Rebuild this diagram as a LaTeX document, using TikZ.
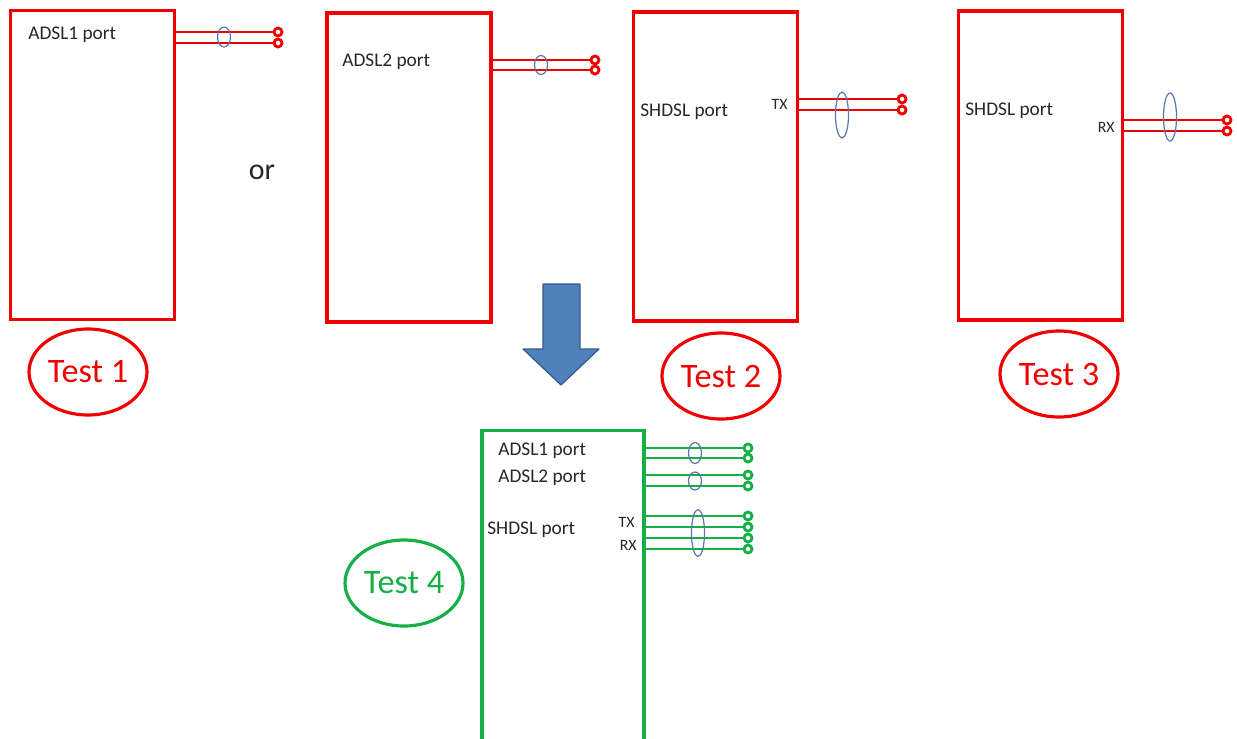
\documentclass[tikz,border=0pt]{standalone}
\usepackage{fontspec}
\setmainfont{Carlito}
\usetikzlibrary{shapes.geometric,positioning}
\definecolor{boxred}{RGB}{240,0,0}
\definecolor{boxgreen}{RGB}{20,176,70}
\definecolor{sheathblue}{RGB}{90,120,170}
\definecolor{arrowblue}{RGB}{79,129,189}
\definecolor{arrowedge}{RGB}{52,90,140}

\begin{document}
\begin{tikzpicture}[x=0.2mm, y=-0.2mm,
                    REDBOX/.style={rectangle, draw=boxred, line width=2.2pt, minimum width=3.28cm, minimum height=6.18cm, inner sep=0pt},
                    GREENBOX/.style={rectangle, draw=boxgreen, line width=2.2pt, minimum width=3.24cm, minimum height=6.3cm, inner sep=0pt},
                    RWIRE/.style={draw=boxred, line width=1pt},
                    GWIRE/.style={draw=boxgreen, line width=1pt},
                    RDOT/.style={circle, draw=boxred, fill=white, line width=1.6pt, minimum size=1.6mm, inner sep=0pt},
                    GDOT/.style={circle, draw=boxgreen, fill=white, line width=1.6pt, minimum size=1.6mm, inner sep=0pt},
                    SHEATH/.style={ellipse, draw=sheathblue, line width=0.7pt, minimum width=2.6mm, inner sep=0pt},
                    PORT/.style={font=\fontsize{11}{13}\selectfont, text=black!85, inner sep=0pt},
                    PIN/.style={font=\fontsize{9}{11}\selectfont, text=black!85, inner sep=0pt},
                    TEST/.style={ellipse, line width=1.8pt, inner sep=0pt, minimum width=2.36cm, minimum height=1.72cm, font=\fontsize{19.5}{22}\selectfont},
                ]
                \useasboundingbox (0,0) rectangle (1237,738);

                % the four test set-ups
                \node[REDBOX] (ADSL1_Box) at (92.5,165)  {};
                \node[REDBOX] (ADSL2_Box) at (409,167.5) {};
                \node[REDBOX] (TX_Box)    at (715.5,166.5) {};
                \node[REDBOX] (RX_Box)    at (1040.5,165.5) {};

                \node[PORT, anchor=west] (ADSL1_Lbl) at (28,35)  {ADSL1 port};
                \node[PORT, anchor=west] (ADSL2_Lbl) at (342,62) {ADSL2 port};
                \node[PORT, anchor=west] (TX_Lbl)    at (640,112) {SHDSL port};
                \node[PORT, anchor=west] (RX_Lbl)    at (965,111) {SHDSL port};
                \node[PIN, anchor=east]  (TX_Pin)    at (788,104) {TX};
                \node[PIN, anchor=east]  (RX_Pin)    at (1115,127) {RX};

                \node[RDOT] (ADSL1_A) at (278,32)  {};
                \node[RDOT] (ADSL1_B) at (278,43)  {};
                \node[RDOT] (ADSL2_A) at (595,60)  {};
                \node[RDOT] (ADSL2_B) at (595,70)  {};
                \node[RDOT] (TX_A)    at (902,99)  {};
                \node[RDOT] (TX_B)    at (902,110) {};
                \node[RDOT] (RX_A)    at (1227,120) {};
                \node[RDOT] (RX_B)    at (1227,131) {};

                \foreach \p/\b in {ADSL1_A/ADSL1_Box, ADSL1_B/ADSL1_Box, ADSL2_A/ADSL2_Box, ADSL2_B/ADSL2_Box,
                                   TX_A/TX_Box, TX_B/TX_Box, RX_A/RX_Box, RX_B/RX_Box}
                    \draw[RWIRE] (\p -| \b.east) -- (\p.west);

                \node[SHEATH, minimum height=4mm]   (ADSL1_Sh) at (224,37)  {};
                \node[SHEATH, minimum height=3.8mm] (ADSL2_Sh) at (541,65)  {};
                \node[SHEATH, minimum height=9.2mm] (TX_Sh)    at (842,115) {};
                \node[SHEATH, minimum height=9.6mm] (RX_Sh)    at (1170,117) {};

                \node[font=\fontsize{17}{20}\selectfont, text=black!85] (Or) at (262,172) {or};

                \node[TEST, draw=boxred, text=boxred] (Test1) at (88,372)   {Test 1};
                \node[TEST, draw=boxred, text=boxred] (Test2) at (721,376)  {Test 2};
                \node[TEST, draw=boxred, text=boxred] (Test3) at (1059,374) {Test 3};

                % merge arrow
                \draw[fill=arrowblue, draw=arrowedge, line width=0.7pt, line join=round]
                    (543,284) -- (580,284) -- (580,349) -- (599,349) -- (561,385) -- (523,349) -- (543,349) -- cycle;

                % combined set-up
                \node[GREENBOX] (All_Box) at (563,588) {};
                \node[PORT, anchor=west] (All_ADSL1) at (498,451) {ADSL1 port};
                \node[PORT, anchor=west] (All_ADSL2) at (498,478) {ADSL2 port};
                \node[PORT, anchor=west] (All_SHDSL) at (487,530) {SHDSL port};
                \node[PIN, anchor=east]  (All_TX)    at (635,522) {TX};
                \node[PIN, anchor=east]  (All_RX)    at (637,545) {RX};

                \foreach \y [count=\i] in {448,458,475,486,516,527,538,549} {
                    \node[GDOT] (G\i) at (748,\y) {};
                    \draw[GWIRE] (G\i -| All_Box.east) -- (G\i.west);
                }

                \node[SHEATH, minimum height=4.2mm] (All_Sh1) at (695,453) {};
                \node[SHEATH, minimum height=3.6mm] (All_Sh2) at (695,481) {};
                \node[SHEATH, minimum height=9.4mm] (All_Sh3) at (698,533) {};

                \node[TEST, draw=boxgreen, text=boxgreen] (Test4) at (404,583) {Test 4};

            \end{tikzpicture}
\end{document}
